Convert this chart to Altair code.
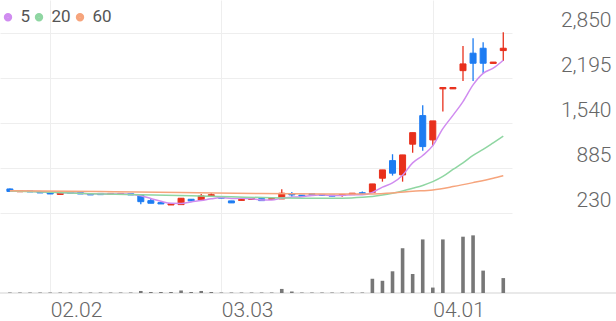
import altair as alt
import pandas as pd

# ---------------- data ----------------
idx = list(range(50))
open_ = [579, 538, 550, 538, 525, 499, 531, 525, 511, 514, 499, 499, 509, 492, 409, 380, 346, 351, 429, 419,
         480, 467, 405, 412, 426, 438, 426, 434, 511, 489, 509, 499, 489, 485, 496, 524, 530, 735, 991, 783,
         1230, 1646, 1292, 2035, 2035, 2300, 2554, 2626, 2405, 2592]
close = [543, 553, 536, 521, 506, 528, 517, 506, 492, 496, 514, 514, 492, 394, 371, 361, 364, 444, 405, 477,
         495, 444, 376, 426, 441, 409, 441, 517, 492, 474, 495, 485, 474, 499, 517, 510, 652, 856, 808, 1074,
         1398, 1195, 1569, 2055, 2055, 2398, 2408, 2408, 2425, 2626]
high = [586, 553, 550, 538, 525, 528, 531, 525, 511, 514, 514, 514, 509, 492, 444, 380, 364, 448, 429, 506,
        517, 467, 405, 426, 441, 438, 441, 575, 536, 489, 509, 499, 489, 499, 517, 540, 652, 856, 1084, 1074,
        1398, 1797, 1569, 2055, 2055, 2660, 2772, 2714, 2425, 2859]
low = [536, 538, 536, 521, 506, 499, 517, 506, 492, 496, 499, 499, 492, 357, 371, 361, 346, 346, 405, 412,
       480, 444, 376, 412, 426, 409, 426, 434, 467, 474, 495, 485, 474, 467, 496, 506, 530, 685, 773, 685,
       1107, 1136, 1209, 1704, 2035, 2151, 2151, 2263, 2405, 2442]
volume = [0.7, 0.7, 0.7, 0.7, 0.7, 0.7, 0.7, 0.7, 0.7, 0.7, 0.7, 0.7, 0.7, 3, 1.5, 1.5, 1.5, 3.7, 1.5, 3,
          1.5, 0.7, 0.7, 0.7, 0.7, 0.7, 0.7, 6, 2.2, 0.7, 0.7, 0.7, 0.7, 0.7, 0.7, 0.7, 21, 18, 32, 66,
          28, 79, 8, 79, 0, 83, 85, 33, 0, 22]

ma5 = [548, 548, 545, 540, 532, 529, 522, 516, 510, 508, 505, 504, 502, 480, 440, 400, 370, 368, 390, 410,
       435, 453, 439, 444, 436, 419, 419, 447, 460, 467, 484, 493, 484, 485, 494, 495, 528, 605, 666, 778,
       958, 1066, 1209, 1456, 1650, 1850, 2093, 2261, 2336, 2452]
ma20_idx = [0, 4, 8, 13, 18, 22, 26, 30, 33, 35, 36, 37, 38, 39, 40, 41, 42, 43, 44, 45, 46, 47, 48, 49]
ma20 = [550, 530, 510, 495, 480, 465, 450, 443, 445, 458, 470, 490, 517, 550, 589, 630, 685, 761, 863, 958,
        1067, 1154, 1249, 1346]
ma60_idx = [0, 9, 17, 25, 34, 36, 38, 40, 42, 44, 46, 48, 49]
ma60 = [552, 540, 528, 512, 506, 507, 520, 545, 565, 613, 671, 735, 773]

ma_names = ["5", "20", "60"]
ma_colors = ["#d08cf0", "#8fd6a2", "#f6a47c"]
tick_idx = [4, 21, 42]
tick_lbl = ["02.02", "03.03", "04.01"]
price_ticks = [230, 885, 1540, 2195, 2850]

RED = "#e8301c"
BLUE = "#1d7cf2"
FONT = "Roboto"

# ---------------- tables ----------------
candles = pd.DataFrame({"i": idx, "open": open_, "close": close, "high": high, "low": low})
vol = pd.DataFrame({"i": idx, "volume": volume})
ma_df = pd.concat([
    pd.DataFrame({"i": idx, "v": ma5, "ma": "5"}),
    pd.DataFrame({"i": ma20_idx, "v": ma20, "ma": "20"}),
    pd.DataFrame({"i": ma60_idx, "v": ma60, "ma": "60"}),
])
base_df = pd.DataFrame({"v": [0]})

label_expr = "''"
for t, l in reversed(list(zip(tick_idx, tick_lbl))):
    label_expr = f"datum.value == {t} ? '{l}' : ({label_expr})"

# legend dot: concentric rings so a stroked symbol reads as a filled disc
dot_path = " ".join(
    f"M {-r} 0 A {r} {r} 0 1 0 {r} 0 A {r} {r} 0 1 0 {-r} 0 Z" for r in [0.85, 0.6, 0.35, 0.12]
)

x_scale = alt.Scale(domain=[-0.487, 49.37], nice=False, zero=False)
y_scale = alt.Scale(domain=[-935, 3328], nice=False, zero=False)
v_scale = alt.Scale(domain=[0, 432], nice=False, zero=True)

x_axis = alt.Axis(values=tick_idx, labelExpr=label_expr, labelAlign="left", labelBaseline="alphabetic",
                  labelPadding=23, ticks=False, tickSize=0, domain=False, grid=True, gridColor="#eeeeee",
                  gridWidth=1, labelFontSize=21, labelFont=FONT, labelFontWeight=300, labelColor="#666666",
                  title=None, labelFlush=False, labelOverlap=False)
y_axis = alt.Axis(orient="right", values=price_ticks, format=",d", labelAlign="right",
                  labelBaseline="alphabetic", labelOffset=-6, labelPadding=99, ticks=False, tickSize=0,
                  domain=False, grid=True, gridColor="#eeeeee", gridWidth=1, labelFontSize=21,
                  labelFont=FONT, labelFontWeight=300, labelColor="#666666", title=None, labelOverlap=False)

up = "datum.close >= datum.open"

wicks = alt.Chart(candles).mark_rule(strokeWidth=1.3).encode(
    x=alt.X("i:Q", scale=x_scale, axis=x_axis),
    y=alt.Y("low:Q", scale=y_scale, axis=y_axis),
    y2="high:Q",
    color=alt.condition(up, alt.value(RED), alt.value(BLUE)),
)
bodies = alt.Chart(candles).mark_bar(size=6, strokeWidth=1).encode(
    x=alt.X("i:Q", scale=x_scale, axis=x_axis),
    y=alt.Y("open:Q", scale=y_scale, axis=y_axis),
    y2="close:Q",
    color=alt.condition(up, alt.value(RED), alt.value(BLUE)),
    stroke=alt.condition(up, alt.value(RED), alt.value(BLUE)),
)
lines = alt.Chart(ma_df).mark_line(interpolate="monotone", strokeWidth=1.5).encode(
    x=alt.X("i:Q", scale=x_scale, axis=x_axis),
    y=alt.Y("v:Q", scale=y_scale, axis=y_axis),
    color=alt.Color("ma:N", scale=alt.Scale(domain=ma_names, range=ma_colors),
                    legend=alt.Legend(orient="none", legendX=-0.5, legendY=8.5, direction="horizontal",
                                      title=None, symbolType=dot_path, symbolSize=64, gridAlign="each",
                                      labelFontSize=17, labelFontWeight="normal", labelOffset=4,
                                      columnPadding=0, columns=3)),
    detail="ma:N",
)

vol_bars = alt.Chart(vol).mark_bar(size=3.6, color="#777777").encode(
    x=alt.X("i:Q", scale=x_scale, axis=x_axis),
    y=alt.Y("volume:Q", scale=v_scale, axis=None),
)
vol_base = alt.Chart(base_df).mark_rule(color="#e2e2e2", strokeWidth=1.6).encode(
    y=alt.Y("v:Q", scale=v_scale, axis=None),
    x=alt.value(0),
    x2=alt.value(616),
)

price = alt.layer(wicks, bodies, lines)
volume_layer = alt.layer(vol_base, vol_bars)

chart = alt.layer(price, volume_layer).resolve_scale(y="independent").properties(
    width=512, height=293,
    autosize=alt.AutoSizeParams(type="none"),
    padding={"left": 0, "right": 104, "top": 0, "bottom": 28},
).configure_view(stroke=None).configure_legend(
    labelFont=FONT, labelColor="#555555", padding=0, symbolStrokeWidth=1.6,
)

chart.save("out.html", embed_options={"renderer": "svg", "actions": False})
